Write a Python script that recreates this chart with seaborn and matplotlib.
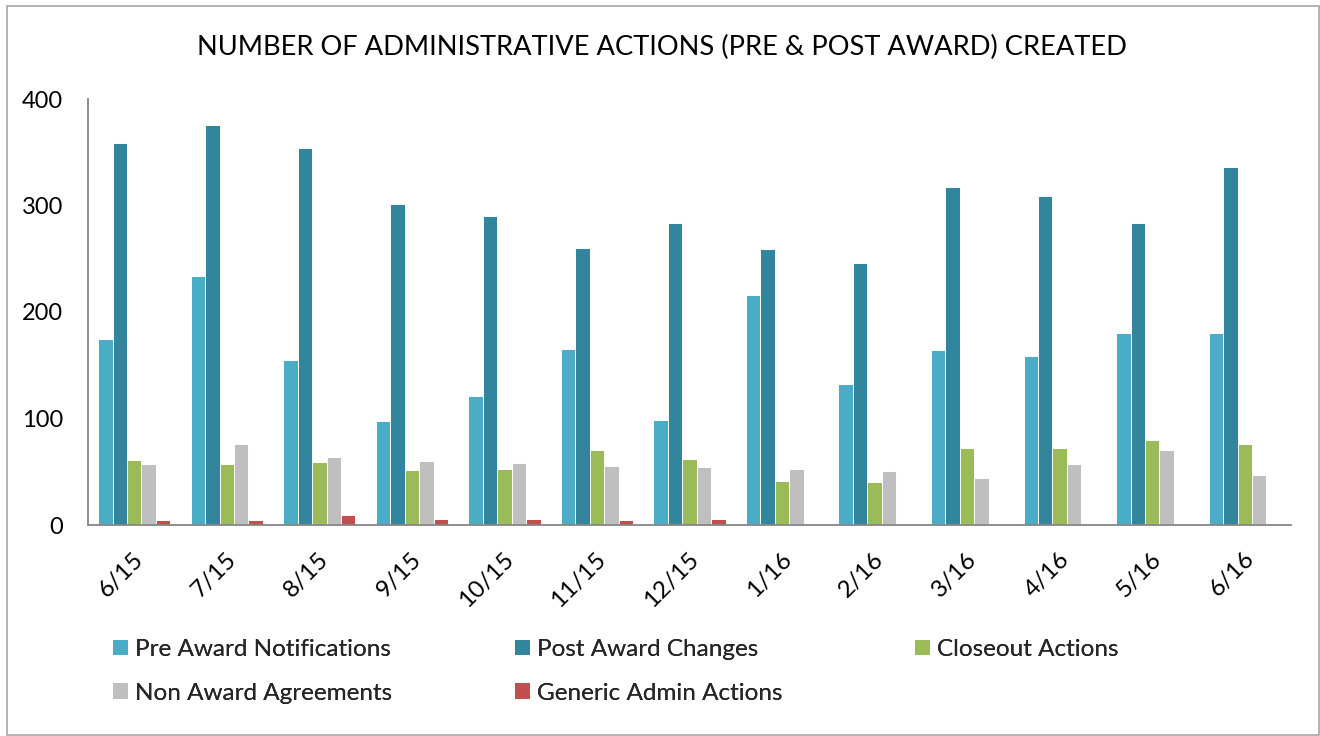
import matplotlib
matplotlib.use("Agg")
import matplotlib.pyplot as plt
import matplotlib.transforms as mtransforms
import seaborn as sns
import pandas as pd
from matplotlib.patches import Rectangle, Patch

months = ["6/15", "7/15", "8/15", "9/15", "10/15", "11/15", "12/15",
          "1/16", "2/16", "3/16", "4/16", "5/16", "6/16"]
pre_award = [175, 234, 155, 98, 121, 165, 99, 216, 132, 164, 159, 180, 180]
post_award = [359, 376, 354, 301, 290, 260, 284, 259, 246, 317, 309, 284, 336]
closeout = [61, 57, 59, 52, 53, 70, 62, 41, 40, 72, 72, 80, 76]
non_award = [57, 76, 64, 60, 58, 55, 54, 53, 51, 44, 57, 70, 47]
generic = [5, 5, 9, 6, 6, 5, 6, 1, 1, 1, 1, 1, 1]

series_names = ["Pre Award Notifications", "Post Award Changes", "Closeout Actions",
                "Non Award Agreements", "Generic Admin Actions"]
series_values = [pre_award, post_award, closeout, non_award, generic]
colors = ["#4BACC6", "#31859C", "#9BBB59", "#BFBFBF", "#C0504D"]

rows = []
for name, vals in zip(series_names, series_values):
    for m, v in zip(months, vals):
        rows.append({"Month": m, "Series": name, "Value": v})
df = pd.DataFrame(rows)

sns.set_theme(style="white")
plt.rcParams["font.family"] = ["Lato", "DejaVu Sans"]

fig = plt.figure(figsize=(13.2, 7.36), dpi=100)
ax = fig.add_axes([88 / 1320, 1 - 525 / 736, (1291 - 88) / 1320, (525 - 99) / 736])

sns.barplot(data=df, x="Month", y="Value", hue="Series", order=months,
            hue_order=series_names, palette=colors, saturation=1, width=0.78, gap=0,
            edgecolor="white", linewidth=0.7, ax=ax, legend=False)

ax.set_ylim(0, 400)
ax.set_xlim(-0.5, len(months) - 0.5)
ax.set_yticks([0, 100, 200, 300, 400])
ax.set_xlabel("")
ax.set_ylabel("")
for s in ["top", "right"]:
    ax.spines[s].set_visible(False)
for s in ["left", "bottom"]:
    ax.spines[s].set_color("#868686")
    ax.spines[s].set_linewidth(1.3)
ax.tick_params(axis="both", length=0)
ax.tick_params(axis="y", pad=18, labelsize=17, labelcolor="black")
ax.tick_params(axis="x", pad=22, labelsize=17.5, labelcolor="black")
shift = mtransforms.ScaledTranslation(6 / 100, 0, fig.dpi_scale_trans)
for lab in ax.get_xticklabels():
    lab.set_rotation(45)
    lab.set_horizontalalignment("right")
    lab.set_verticalalignment("center")
    lab.set_rotation_mode("anchor")
    lab.set_transform(lab.get_transform() + shift)

fig.text(662 / 1320, 1 - 47 / 736, "NUMBER OF ADMINISTRATIVE ACTIONS (PRE & POST AWARD) CREATED",
         ha="center", va="center", fontsize=19.6, color="black")

# legend in three columns
handles = [Patch(facecolor=c, edgecolor="none") for c in colors]
col_specs = [([0, 3], 113), ([1, 4], 515), ([2], 915)]
for idx, xpix in col_specs:
    leg = fig.legend([handles[i] for i in idx], [series_names[i] for i in idx],
                     loc="upper left", bbox_to_anchor=(xpix / 1320, 1 - 639 / 736),
                     frameon=False, fontsize=17.5, handlelength=0.62, handleheight=0.62,
                     handletextpad=0.3, labelspacing=0.93, borderaxespad=0, borderpad=0)
    fig.add_artist(leg)

fig.add_artist(Rectangle((7 / 1320, 1 / 736), 1312 / 1320, 729 / 736,
                         transform=fig.transFigure, fill=False,
                         edgecolor="#A6A6A6", linewidth=1.2))

fig.savefig("out.png", dpi=100)
